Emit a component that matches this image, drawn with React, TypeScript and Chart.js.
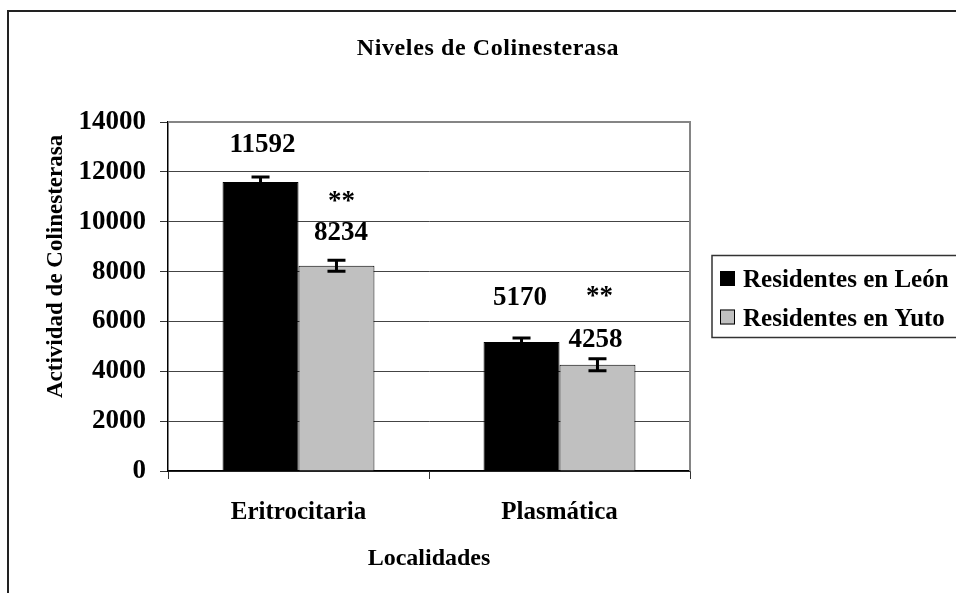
import { useEffect, useRef } from "react";
import { Chart, registerables } from "chart.js";

Chart.register(...registerables);

// ---- data ----
const CATEGORIES = ["Eritrocitaria", "Plasmática"];
const SERIES_NAMES = ["Residentes en León", "Residentes en Yuto"];
const LEON = [11592, 5170];
const YUTO = [8234, 4258];
const LEON_ERR = [200, 165];
const YUTO_ERR = [220, 240];
const YUTO_SIGNIFICANCE = ["**", "**"];
const Y_MIN = 0;
const Y_MAX = 14000;
const Y_STEP = 2000;
const TITLE = "Niveles de Colinesterasa";
const Y_TITLE = "Actividad de Colinesterasa";
const X_TITLE = "Localidades";

// ---- styling ----
const FONT = "'Liberation Serif', 'Times New Roman', serif";
const COLORS = ["#000000", "#C0C0C0"];
// manual nudges of the value labels (px): dx from bar centre, rise of baseline above bar top
const VALUE_NUDGE = [
  [{ dx: 2, rise: 30 }, { dx: -1.5, rise: 37 }],
  [{ dx: 4.5, rise: 26 }, { dx: -2, rise: 18 }],
];
const SIG_NUDGE = [{ dx: 5, rise: 57 }, { dx: 2, rise: 61 }];

const decorPlugin = {
  id: "decor",
  beforeDraw(chart: any) {
    const ctx = chart.ctx;
    ctx.save();
    ctx.fillStyle = "#fff";
    ctx.fillRect(0, 0, chart.width, chart.height);
    ctx.strokeStyle = "#222";
    ctx.lineWidth = 2;
    ctx.strokeRect(8, 11, 2000, 2000);
    ctx.restore();
  },
  afterDatasetsDraw(chart: any) {
    const ctx = chart.ctx;
    const y = chart.scales.y;
    const errs = [LEON_ERR, YUTO_ERR];
    ctx.save();
    chart.data.datasets.forEach((ds: any, di: number) => {
      const meta = chart.getDatasetMeta(di);
      meta.data.forEach((el: any, j: number) => {
        const v = ds.data[j];
        const e = errs[di][j];
        const yt = y.getPixelForValue(v + e);
        const yb = y.getPixelForValue(v - e);
        ctx.strokeStyle = "#000";
        ctx.lineWidth = 3;
        ctx.beginPath();
        ctx.moveTo(el.x, yt);
        ctx.lineTo(el.x, yb);
        ctx.moveTo(el.x - 9, yt);
        ctx.lineTo(el.x + 9, yt);
        ctx.moveTo(el.x - 9, yb);
        ctx.lineTo(el.x + 9, yb);
        ctx.stroke();
        // value labels
        const n = VALUE_NUDGE[di][j];
        ctx.fillStyle = "#000";
        ctx.font = `bold 27px ${FONT}`;
        ctx.textAlign = "center";
        ctx.textBaseline = "alphabetic";
        ctx.fillText(String(v), el.x + n.dx, el.y - n.rise);
        if (di === 1) {
          const s = SIG_NUDGE[j];
          ctx.fillText(YUTO_SIGNIFICANCE[j], el.x + s.dx, el.y - s.rise);
        }
      });
    });
    ctx.restore();
  },
  afterDraw(chart: any) {
    const ctx = chart.ctx;
    const a = chart.chartArea;
    ctx.save();
    // plot frame (top and right)
    ctx.strokeStyle = "#858585";
    ctx.lineWidth = 2;
    ctx.beginPath();
    ctx.moveTo(a.left, a.top);
    ctx.lineTo(a.right, a.top);
    ctx.lineTo(a.right, a.bottom);
    ctx.stroke();
    // title
    ctx.fillStyle = "#000";
    ctx.font = `bold 24px ${FONT}`;
    (ctx as any).letterSpacing = "0.6px";
    ctx.textAlign = "center";
    ctx.textBaseline = "alphabetic";
    ctx.fillText(TITLE, 488, 55);
    (ctx as any).letterSpacing = "0px";
    // y title
    ctx.save();
    ctx.translate(62, 398);
    ctx.rotate(-Math.PI / 2);
    ctx.font = `bold 23px ${FONT}`;
    ctx.textAlign = "left";
    ctx.fillText(Y_TITLE, 0, 0);
    ctx.restore();
    // legend
    ctx.strokeStyle = "#333";
    ctx.lineWidth = 1.5;
    ctx.strokeRect(712, 255.5, 400, 82);
    chart.data.datasets.forEach((ds: any, i: number) => {
      const top = 271 + i * 38.5;
      ctx.fillStyle = ds.backgroundColor;
      ctx.fillRect(720, top, 15, 15);
      ctx.strokeStyle = "#000";
      ctx.lineWidth = 1;
      ctx.strokeRect(720.5, top + 0.5, 14, 14);
      ctx.fillStyle = "#000";
      ctx.font = `bold 25px ${FONT}`;
      ctx.textAlign = "left";
      ctx.fillText(ds.label, 743, top + 16);
    });
    ctx.restore();
  },
};

export default function App() {
  const ref = useRef<HTMLCanvasElement | null>(null);
  useEffect(() => {
    if (!ref.current) return;
    const chart = new Chart(ref.current, {
      type: "bar",
      data: {
        labels: CATEGORIES,
        datasets: [
          {
            label: SERIES_NAMES[0],
            data: LEON,
            backgroundColor: COLORS[0],
            borderColor: "#000",
            borderWidth: 1,
          },
          {
            label: SERIES_NAMES[1],
            data: YUTO,
            backgroundColor: COLORS[1],
            borderColor: "#000",
            borderWidth: 1,
          },
        ],
      },
      options: {
        animation: false,
        responsive: true,
        maintainAspectRatio: false,
        datasets: { bar: { categoryPercentage: 0.582, barPercentage: 1 } },
        layout: { padding: { left: 20, right: 266, top: 122, bottom: 20 } },
        plugins: { legend: { display: false }, title: { display: false }, tooltip: { enabled: false } },
        scales: {
          x: {
            offset: true,
            grid: { offset: true, drawOnChartArea: false, drawTicks: true, tickLength: 8, color: "#333" },
            border: { display: true, color: "#000", width: 1.5 },
            ticks: { color: "#000", padding: 19, font: { family: FONT, size: 25, weight: "bold" } },
            title: {
              display: true,
              text: X_TITLE,
              color: "#000",
              font: { family: FONT, size: 24, weight: "bold" },
              padding: { top: 0, bottom: 0 },
            },
            afterFit(scale: any) {
              scale.height = 102;
            },
          },
          y: {
            min: Y_MIN,
            max: Y_MAX,
            ticks: {
              stepSize: Y_STEP,
              color: "#000",
              padding: 14,
              font: { family: FONT, size: 27, weight: "bold" },
              callback: (v: any) => String(v),
            },
            grid: { color: "#444", lineWidth: 1, tickLength: 8, tickColor: "#333" },
            border: { display: true, color: "#000", width: 1.5 },
            afterFit(scale: any) {
              scale.width = 148;
            },
          },
        },
      },
      plugins: [decorPlugin],
    } as any);
    return () => chart.destroy();
  }, []);
  return (
    <div style={{ position: "fixed", left: 0, top: 0, width: 956, height: 593, background: "#fff" }}>
      <canvas ref={ref} />
    </div>
  );
}
